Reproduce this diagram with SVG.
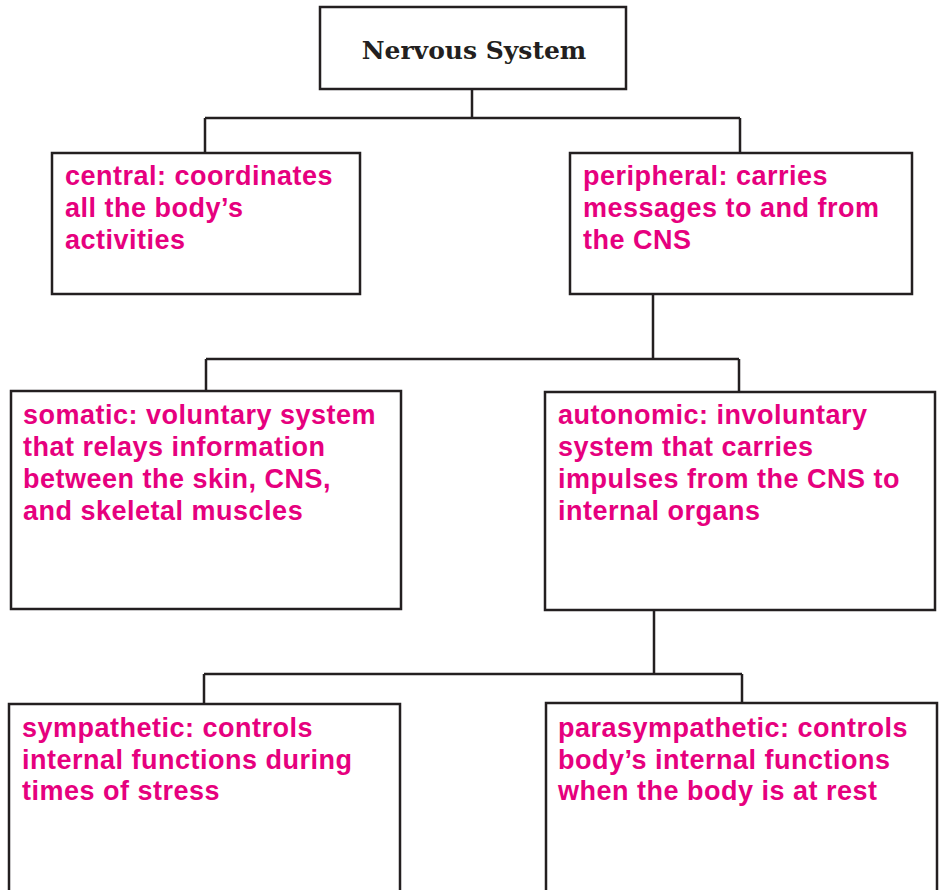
<svg xmlns="http://www.w3.org/2000/svg" width="939" height="890" viewBox="0 0 939 890">
<style>
.box{fill:#fff;stroke:#231f20;stroke-width:2.5}
.con{fill:none;stroke:#231f20;stroke-width:2.5}
.lbl{font-family:"Liberation Sans",Arial,sans-serif;font-weight:bold;font-size:27px;fill:#e6007e;letter-spacing:0.5px}
.title{font-family:"DejaVu Serif",serif;font-weight:bold;font-size:25px;fill:#231f20}
</style>
<rect width="939" height="890" fill="#fff"/>
<g id="connectors">
<path class="con" d="M472 89V118M205 118H740M205 118V153M740 118V153"/>
<path class="con" d="M653 294V359M206 359H739M206 359V391M739 359V392"/>
<path class="con" d="M654 610V674M204 674H742M204 674V704M742 674V703"/>
</g>
<g id="nervous-system">
<rect class="box" x="320" y="7" width="306" height="82"/>
<text class="title" x="474" y="59" text-anchor="middle">Nervous System</text>
</g>
<g id="central">
<rect class="box" x="52" y="153" width="308" height="141"/>
<text class="lbl" x="65" y="185">central: coordinates</text>
<text class="lbl" x="65" y="217">all the body’s</text>
<text class="lbl" x="65" y="249">activities</text>
</g>
<g id="peripheral">
<rect class="box" x="570" y="153" width="342" height="141"/>
<text class="lbl" x="583" y="185">peripheral: carries</text>
<text class="lbl" x="583" y="217">messages to and from</text>
<text class="lbl" x="583" y="249">the CNS</text>
</g>
<g id="somatic">
<rect class="box" x="11" y="391" width="390" height="218"/>
<text class="lbl" x="23" y="424">somatic: voluntary system</text>
<text class="lbl" x="23" y="456">that relays information</text>
<text class="lbl" x="23" y="488">between the skin, CNS,</text>
<text class="lbl" x="23" y="520">and skeletal muscles</text>
</g>
<g id="autonomic">
<rect class="box" x="545" y="392" width="390" height="218"/>
<text class="lbl" x="558" y="424">autonomic: involuntary</text>
<text class="lbl" x="558" y="456">system that carries</text>
<text class="lbl" x="558" y="488">impulses from the CNS to</text>
<text class="lbl" x="558" y="520">internal organs</text>
</g>
<g id="sympathetic">
<rect class="box" x="9" y="704" width="391" height="200"/>
<text class="lbl" x="22" y="737">sympathetic: controls</text>
<text class="lbl" x="22" y="769">internal functions during</text>
<text class="lbl" x="22" y="800">times of stress</text>
</g>
<g id="parasympathetic">
<rect class="box" x="546" y="703" width="391" height="200"/>
<text class="lbl" x="558" y="737">parasympathetic: controls</text>
<text class="lbl" x="558" y="769">body’s internal functions</text>
<text class="lbl" x="558" y="800">when the body is at rest</text>
</g>
</svg>
